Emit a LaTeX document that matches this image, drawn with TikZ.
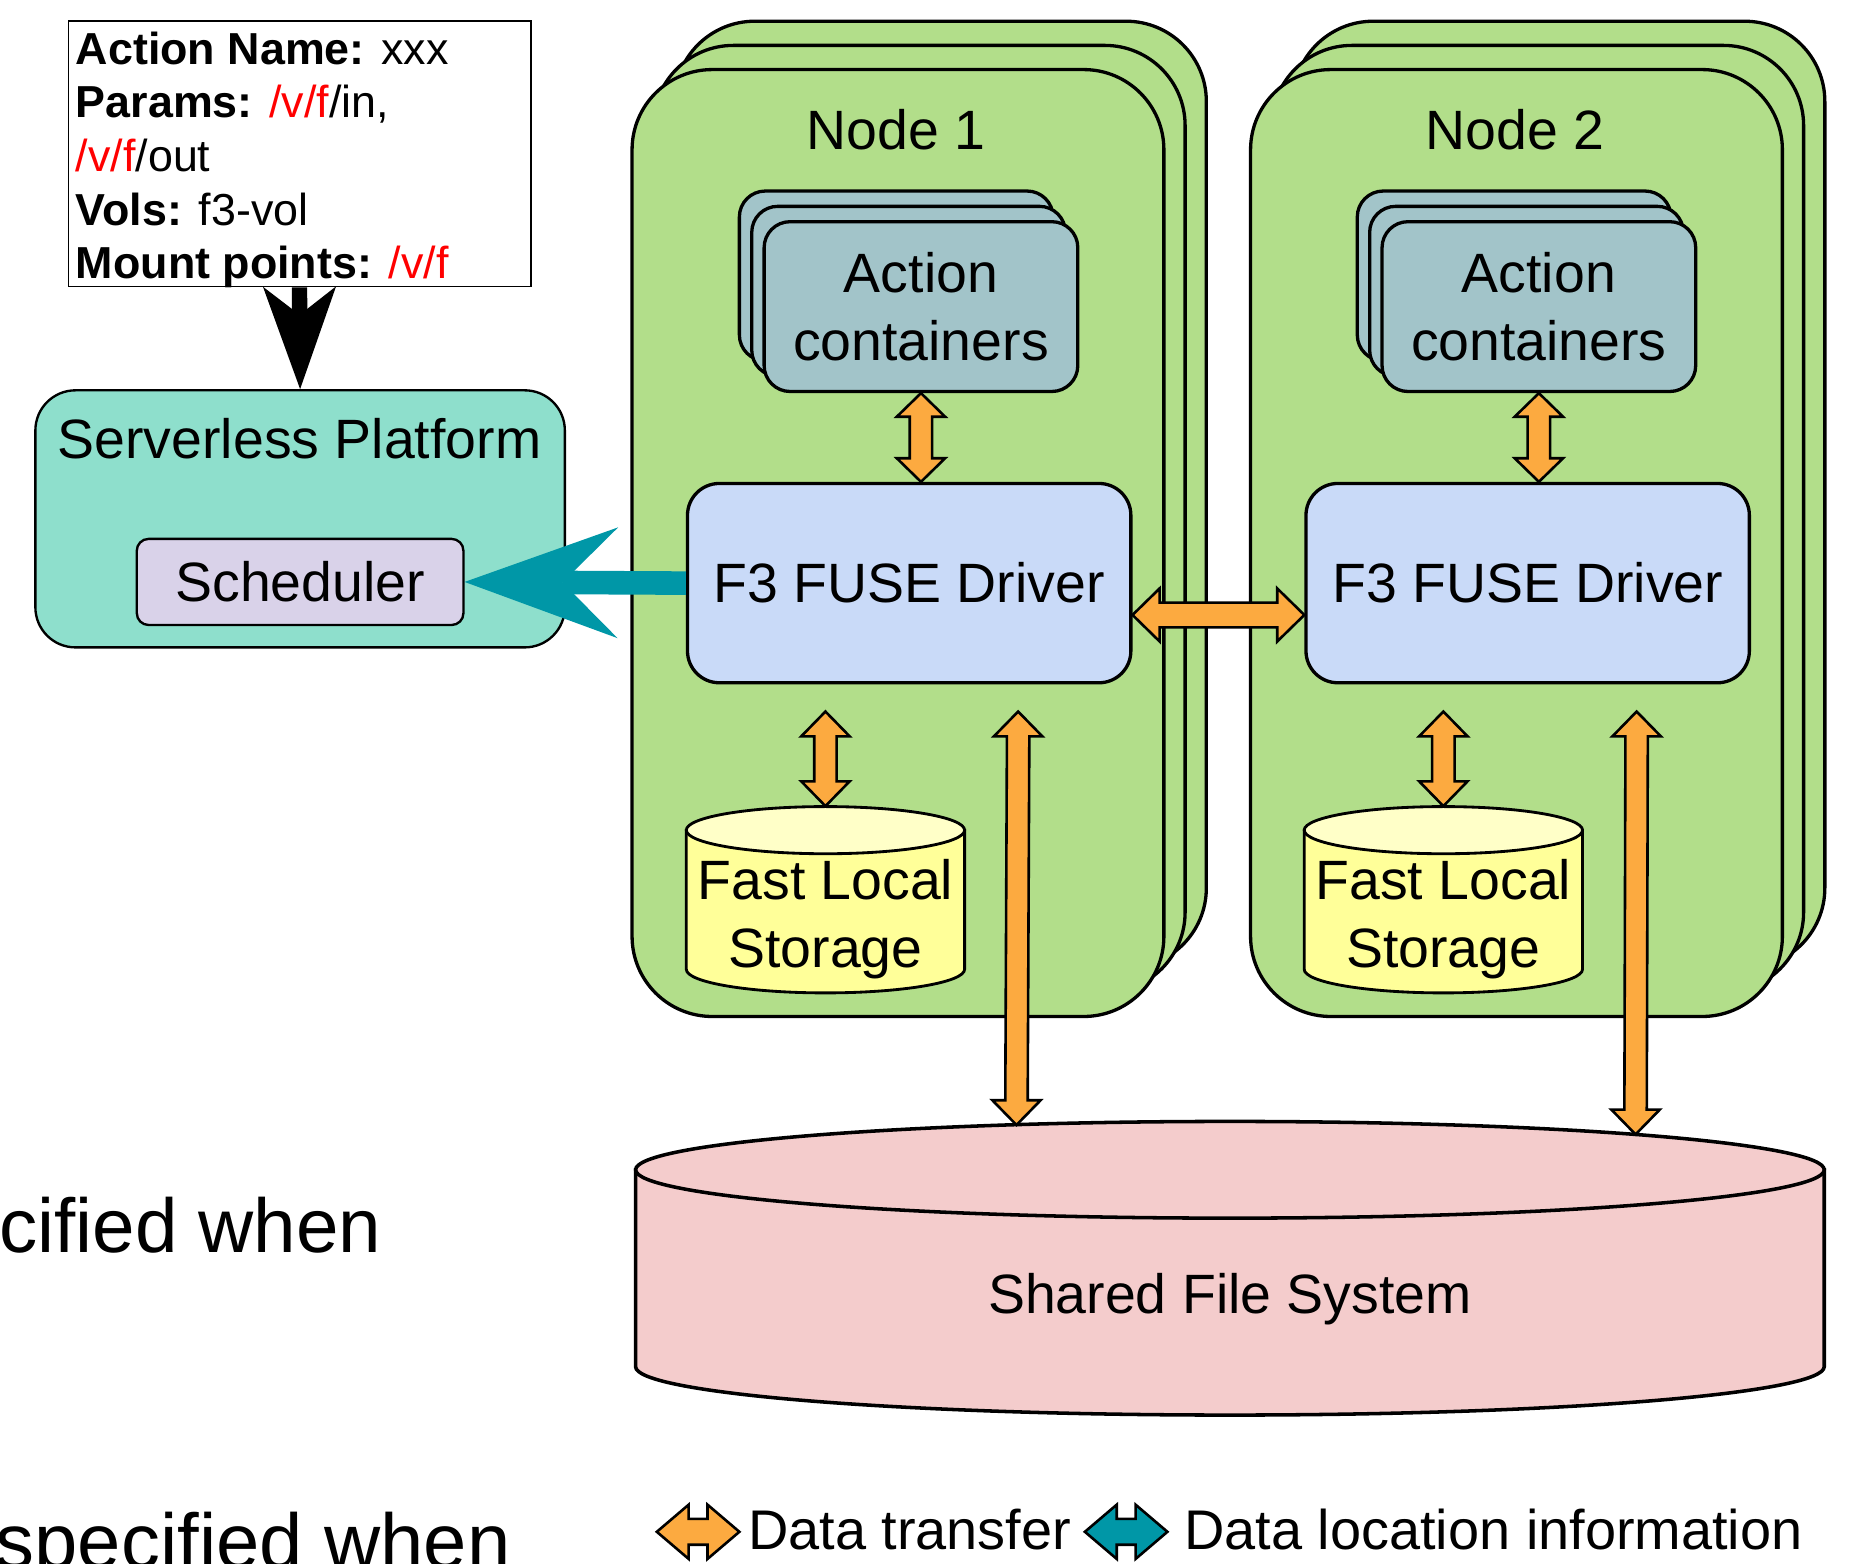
\documentclass[tikz,border=0pt]{standalone}
\usepackage{fontspec}
\setmainfont{Liberation Sans}
\usetikzlibrary{arrows.meta,calc}

\definecolor{nodegreen}{RGB}{178,222,138}
\definecolor{platmint}{RGB}{142,223,204}
\definecolor{schedlav}{RGB}{217,210,233}
\definecolor{contblue}{RGB}{162,196,201}
\definecolor{drvblue}{RGB}{201,218,248}
\definecolor{fsyellow}{RGB}{255,255,153}
\definecolor{fsyellowtop}{RGB}{255,255,200}
\definecolor{sfspink}{RGB}{244,204,204}
\definecolor{xferorange}{RGB}{252,170,64}
\definecolor{locteal}{RGB}{0,151,167}
\definecolor{pathred}{RGB}{255,0,0}

\newcommand\bigfont{\fontsize{23.5pt}{29pt}\selectfont}

% vertical block double arrow: fill, upper end, lower end, half shaft, half head, head length
\newcommand\vdarrow[6]{%
  \draw[arrline, fill=#1] let \p1=(#2), \p2=(#3) in
    (\x1,\y1) -- (\x1+#5,\y1-#6) -- (\x1+#4,\y1-#6) -- (\x2+#4,\y2+#6)
    -- (\x2+#5,\y2+#6) -- (\x2,\y2) -- (\x2-#5,\y2+#6) -- (\x2-#4,\y2+#6)
    -- (\x1-#4,\y1-#6) -- (\x1-#5,\y1-#6) -- cycle;}
% horizontal block double arrow: fill, left end, right end, half shaft, half head, head length
\newcommand\hdarrow[6]{%
  \draw[arrline, fill=#1] let \p1=(#2), \p2=(#3) in
    (\x1,\y1) -- (\x1+#6,\y1+#5) -- (\x1+#6,\y1+#4) -- (\x2-#6,\y2+#4)
    -- (\x2-#6,\y2+#5) -- (\x2,\y2) -- (\x2-#6,\y2-#5) -- (\x2-#6,\y2-#4)
    -- (\x1+#6,\y1-#4) -- (\x1+#6,\y1-#5) -- cycle;}
% upright cylinder: cx, cy, rx, half height, ry, top fill, body fill, line width
\newcommand\cylshape[8]{%
  \draw[line width=#8, fill=#7] ({#1-#3},{#2-#4+#5}) -- ({#1-#3},{#2+#4-#5})
    .. controls ({#1-#3},{#2+#4-#5+0.5523*#5}) and ({#1-0.5523*#3},{#2+#4}) .. ({#1},{#2+#4})
    .. controls ({#1+0.5523*#3},{#2+#4}) and ({#1+#3},{#2+#4-#5+0.5523*#5}) .. ({#1+#3},{#2+#4-#5})
    -- ({#1+#3},{#2-#4+#5}) -- cycle;
  \draw[line width=#8, fill=#6] ({#1},{#2-#4+#5}) ellipse [x radius=#3, y radius=#5];}

\begin{document}
\begin{tikzpicture}[x=0.5pt, y=-0.5pt,
  greenbox/.style={draw, fill=nodegreen, line width=1.4pt, rounded corners=34pt,
    minimum width=225.5pt, minimum height=401.5pt, inner sep=0pt},
  contbox/.style={draw, fill=contblue, line width=1.4pt, rounded corners=11pt,
    minimum width=133pt, minimum height=72pt, inner sep=0pt, align=center, font=\bigfont},
  drvbox/.style={draw, fill=drvblue, line width=1.4pt, rounded corners=13.5pt,
    minimum width=188pt, minimum height=84.5pt, inner sep=0pt, font=\bigfont},
  lbl/.style={inner sep=0pt, font=\bigfont},
  legendtext/.style={inner sep=0pt, font=\fontsize{23.7pt}{28pt}\selectfont, anchor=base west},
  arrline/.style={draw=black, line width=1.1pt, line join=miter},
  hole/.style={inner sep=0pt, minimum width=118pt, minimum height=79pt}]

\useasboundingbox (0,0) rectangle (1568,1326);
\clip (0,0) rectangle (1568,1326);

% ---------- request box and platform ----------
\node[draw, line width=0.75pt, fill=white, minimum width=196pt, minimum height=112.5pt,
  inner sep=0pt] (info) at (254,130.5) {};
\node[anchor=north west, inner sep=0pt, align=left,
  font=\fontsize{19pt}{22.75pt}\selectfont] (infotext) at (64,26.5)
  {\textbf{Action Name:} xxx\\
   \textbf{Params:} \textcolor{pathred}{/v/f}/in,\\
   \textcolor{pathred}{/v/f}/out\\
   \textbf{Vols:} f3-vol\\
   \textbf{Mount points:} \textcolor{pathred}{/v/f}};

\node[draw, fill=platmint, line width=1pt, rounded corners=17pt, minimum width=224.5pt,
  minimum height=109pt, inner sep=0pt] (plat) at (254.5,440) {};
\node[lbl, anchor=base] (plattitle) at (254,389) {Serverless Platform};
\node[draw, fill=schedlav, line width=1pt, rounded corners=5pt, minimum width=138.5pt,
  minimum height=36.5pt, inner sep=0pt, font=\bigfont] (sched) at (254.5,493.5) {Scheduler};

\draw[line width=6.5pt, -{Stealth[length=43.5pt, width=31pt, inset=12pt, line width=0pt]}]
  (info.south) -- (plat.north);

% ---------- node 1 ----------
\node[greenbox] (n1back) at (797.5,419.5) {};
\node[greenbox] (n1mid) at (779.5,440) {};
\node[greenbox] (n1) at (761.5,460.5) {};
\node[lbl, anchor=base] (n1title) at (760,127) {Node 1};
\node[contbox] (ac1back) at (760,234) {};
\node[contbox] (ac1mid) at (770.5,247) {};
\node[contbox] (ac1) at (781,260) {Action\\containers};
\node[drvbox] (drv1) at (771,494.5) {F3 FUSE Driver};
\cylshape{700}{763}{118}{79}{20}{fsyellowtop}{fsyellow}{1.2pt}
\node[hole] (fls1) at (700,763) {};
\node[align=center, inner sep=0pt, font=\fontsize{23.5pt}{28.5pt}\selectfont] (fls1text)
  at (700,779.5) {Fast Local\\Storage};

% ---------- node 2 ----------
\node[greenbox] (n2back) at (1322,419.5) {};
\node[greenbox] (n2mid) at (1304,440) {};
\node[greenbox] (n2) at (1286,460.5) {};
\node[lbl, anchor=base] (n2title) at (1285,127) {Node 2};
\node[contbox] (ac2back) at (1284,234) {};
\node[contbox] (ac2mid) at (1294.5,247) {};
\node[contbox] (ac2) at (1305,260) {Action\\containers};
\node[drvbox] (drv2) at (1295.5,494.5) {F3 FUSE Driver};
\cylshape{1224}{763}{118}{79}{20}{fsyellowtop}{fsyellow}{1.2pt}
\node[hole] (fls2) at (1224,763) {};
\node[align=center, inner sep=0pt, font=\fontsize{23.5pt}{28.5pt}\selectfont] (fls2text)
  at (1224,779.5) {Fast Local\\Storage};

% ---------- shared file system ----------
\cylshape{1043}{1075.5}{504}{124.5}{41}{sfspink}{sfspink}{1.5pt}
\node[lbl, anchor=base] (sfs) at (1043,1114) {Shared File System};
\coordinate (sfsA) at (862,954);
\coordinate (sfsB) at (1387,962);

% ---------- data transfer arrows ----------
\vdarrow{xferorange}{ac1.south}{ac1.south |- drv1.north}{4.75pt}{10.25pt}{10pt}
\vdarrow{xferorange}{ac2.south}{ac2.south |- drv2.north}{4.75pt}{10.25pt}{10pt}
\vdarrow{xferorange}{$(fls1.north |- drv1.south)+(0,23)$}{fls1.north}{4.75pt}{10.25pt}{10.5pt}
\vdarrow{xferorange}{$(fls2.north |- drv2.south)+(0,23)$}{fls2.north}{4.75pt}{10.25pt}{10.5pt}
\vdarrow{xferorange}{$(drv1.south east)+(-97,23)$}{sfsA}{4.75pt}{10.25pt}{10.5pt}
\vdarrow{xferorange}{$(drv2.south east)+(-97,23)$}{sfsB}{4.75pt}{10.25pt}{10.5pt}
\hdarrow{xferorange}{$(drv1.east)+(0,27)$}{$(drv2.west)+(0,27)$}{5.25pt}{11.25pt}{11.5pt}

% ---------- data location arrow ----------
\draw[locteal, line width=10pt,
  -{Stealth[length=65pt, width=47pt, inset=23.5pt, line width=0pt]}]
  (drv1.west) -- (sched.east);

% ---------- legend ----------
\coordinate (lgo1) at (557,1299);
\coordinate (lgo2) at (627,1299);
\coordinate (lgt1) at (920,1299);
\coordinate (lgt2) at (990,1299);
\hdarrow{xferorange}{lgo1}{lgo2}{5.5pt}{11.5pt}{13.5pt}
\hdarrow{locteal}{lgt1}{lgt2}{5.5pt}{11.5pt}{13.5pt}
\node[legendtext] (lgtext1) at (634,1314) {Data transfer};
\node[legendtext] (lgtext2) at (1004,1314) {Data location information};

% ---------- slide text at the left edge ----------
\node[inner sep=0pt, font=\fontsize{32.4pt}{38pt}\selectfont, anchor=base west] (cut1)
  at (-1,1062) {cified when};
\node[inner sep=0pt, font=\fontsize{33pt}{38pt}\selectfont, anchor=base west] (cut2)
  at (-4,1330) {specified when};
\end{tikzpicture}
\end{document}
